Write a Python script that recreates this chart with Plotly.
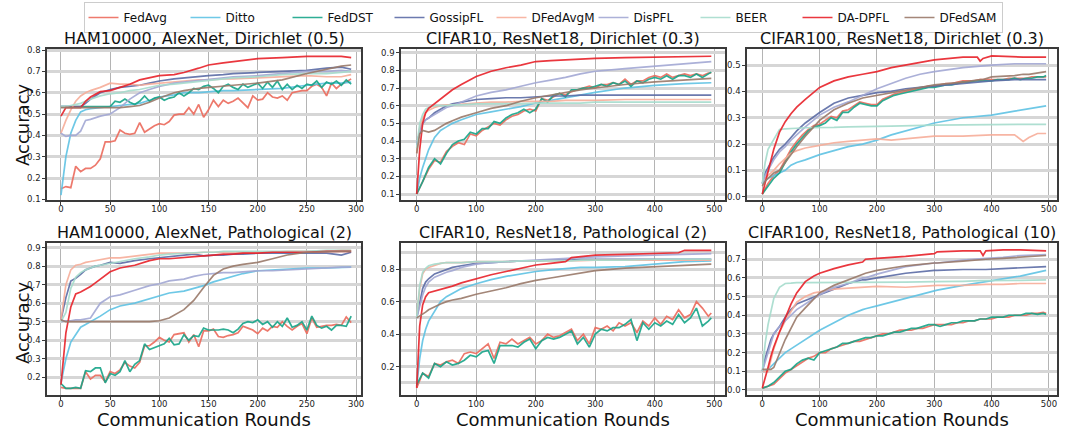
import plotly.graph_objects as go

# ---------------- data ----------------
METHODS = ["FedAvg", "Ditto", "FedDST", "GossipFL", "DFedAvgM", "DisPFL", "BEER", "DA-DPFL", "DFedSAM"]
COLORS = ["#ec6b5d", "#5fc3e4", "#17a589", "#5c6ca6", "#f7ae9a", "#a3a8d4", "#a6dccd", "#e8222a", "#9a7a6a"]
TITLES = ["HAM10000, AlexNet, Dirichlet (0.5)", "CIFAR10, ResNet18, Dirichlet (0.3)", "CIFAR100, ResNet18, Dirichlet (0.3)",
          "HAM10000, AlexNet, Pathological (2)", "CIFAR10, ResNet18, Pathological (2)", "CIFAR100, ResNet18, Pathological (10)"]

# noisy-series round grids
R_HAM = list(range(0, 300, 5))
R_CIF = list(range(0, 500, 10)) + [495]

# ---- Panel 1: HAM10000 Dirichlet(0.5)
p1_x = [0, 5, 10, 15, 20, 25, 30, 40, 50, 60, 70, 80, 90, 100, 115, 125, 140, 150, 165, 175, 200, 225, 250, 270, 285, 295]
p1_ditto = [0.12, 0.30, 0.41, 0.47, 0.51, 0.52, 0.525, 0.53, 0.535, 0.54, 0.545, 0.55, 0.565, 0.58, 0.59, 0.6, 0.6, 0.605, 0.61, 0.61, 0.615, 0.62, 0.635, 0.645, 0.645, 0.65]
p1_gossip = [0.535, 0.535, 0.535, 0.535, 0.535, 0.55, 0.57, 0.6, 0.615, 0.625, 0.63, 0.635, 0.645, 0.655, 0.665, 0.67, 0.675, 0.68, 0.685, 0.69, 0.695, 0.7, 0.705, 0.715, 0.72, 0.71]
p1_dfedavgm = [0.41, 0.47, 0.52, 0.56, 0.585, 0.6, 0.61, 0.625, 0.645, 0.64, 0.64, 0.635, 0.64, 0.645, 0.65, 0.655, 0.66, 0.66, 0.665, 0.665, 0.67, 0.675, 0.68, 0.675, 0.675, 0.685]
p1_dispfl = [0.41, 0.395, 0.40, 0.40, 0.42, 0.47, 0.475, 0.49, 0.5, 0.53, 0.57, 0.6, 0.615, 0.63, 0.645, 0.65, 0.66, 0.665, 0.67, 0.675, 0.68, 0.69, 0.7, 0.7, 0.705, 0.7]
p1_beer = [0.535, 0.535, 0.54, 0.545, 0.55, 0.56, 0.57, 0.585, 0.595, 0.6, 0.61, 0.615, 0.625, 0.635, 0.64, 0.645, 0.655, 0.66, 0.665, 0.67, 0.675, 0.685, 0.69, 0.69, 0.695, 0.7]
p1_dadpfl = [0.49, 0.53, 0.53, 0.53, 0.53, 0.56, 0.58, 0.605, 0.61, 0.625, 0.64, 0.66, 0.67, 0.68, 0.685, 0.695, 0.715, 0.73, 0.74, 0.745, 0.76, 0.765, 0.77, 0.77, 0.77, 0.765]
p1_dfedsam = [0.53, 0.53, 0.53, 0.53, 0.53, 0.53, 0.53, 0.53, 0.53, 0.53, 0.535, 0.54, 0.555, 0.575, 0.6, 0.61, 0.62, 0.625, 0.63, 0.635, 0.645, 0.66, 0.69, 0.71, 0.725, 0.73]
p1_fedavg = [0.15, 0.16, 0.155, 0.255, 0.23, 0.245, 0.245, 0.26, 0.29, 0.37,
             0.37, 0.375, 0.425, 0.41, 0.405, 0.41, 0.46, 0.415, 0.43, 0.445,
             0.455, 0.45, 0.465, 0.495, 0.5, 0.5, 0.53, 0.5, 0.545, 0.485,
             0.52, 0.565, 0.535, 0.565, 0.55, 0.56, 0.575, 0.55, 0.53, 0.585,
             0.565, 0.57, 0.6, 0.58, 0.575, 0.585, 0.565, 0.6, 0.605, 0.61,
             0.61, 0.63, 0.64, 0.625, 0.585, 0.645, 0.62, 0.64, 0.65, 0.665]
p1_feddst = [0.535, 0.535, 0.535, 0.535, 0.535, 0.535, 0.535, 0.535, 0.535, 0.535,
             0.535, 0.56, 0.555, 0.57, 0.555, 0.545, 0.56, 0.585, 0.56, 0.575,
             0.58, 0.565, 0.575, 0.58, 0.6, 0.585, 0.6, 0.62, 0.615, 0.63,
             0.635, 0.62, 0.6, 0.63, 0.64, 0.625, 0.615, 0.64, 0.625, 0.635,
             0.645, 0.62, 0.65, 0.625, 0.655, 0.615, 0.64, 0.615, 0.635, 0.62,
             0.64, 0.635, 0.655, 0.625, 0.65, 0.64, 0.655, 0.635, 0.66, 0.64]

# ---- Panel 2: CIFAR10 Dirichlet(0.3)
p2_x = [0, 5, 10, 15, 20, 30, 40, 50, 60, 75, 100, 125, 150, 175, 200, 225, 250, 275, 300, 350, 400, 450, 495]
p2_dadpfl = [0.1, 0.35, 0.5, 0.56, 0.585, 0.61, 0.64, 0.665, 0.69, 0.72, 0.765, 0.795, 0.815, 0.83, 0.85, 0.855, 0.86, 0.865, 0.868, 0.872, 0.876, 0.878, 0.88]
p2_dispfl = [0.38, 0.45, 0.5, 0.52, 0.53, 0.55, 0.57, 0.59, 0.6, 0.62, 0.655, 0.675, 0.69, 0.71, 0.73, 0.745, 0.76, 0.78, 0.795, 0.81, 0.825, 0.84, 0.85]
p2_gossip = [0.38, 0.45, 0.5, 0.52, 0.53, 0.56, 0.58, 0.6, 0.61, 0.62, 0.635, 0.64, 0.645, 0.645, 0.65, 0.655, 0.655, 0.66, 0.66, 0.66, 0.662, 0.662, 0.66]
p2_dfedavgm = [0.33, 0.47, 0.53, 0.56, 0.575, 0.59, 0.6, 0.605, 0.605, 0.61, 0.615, 0.62, 0.62, 0.625, 0.625, 0.625, 0.63, 0.63, 0.63, 0.635, 0.635, 0.635, 0.635]
p2_beer = [0.36, 0.5, 0.55, 0.58, 0.59, 0.6, 0.6, 0.6, 0.605, 0.605, 0.61, 0.61, 0.61, 0.612, 0.615, 0.615, 0.615, 0.615, 0.62, 0.62, 0.62, 0.62, 0.62]
p2_ditto = [0.1, 0.19, 0.25, 0.3, 0.35, 0.42, 0.46, 0.48, 0.5, 0.52, 0.55, 0.565, 0.58, 0.595, 0.615, 0.63, 0.645, 0.66, 0.675, 0.7, 0.715, 0.725, 0.73]
p2_dfedsam = [0.33, 0.44, 0.46, 0.455, 0.45, 0.46, 0.48, 0.5, 0.515, 0.535, 0.56, 0.585, 0.6, 0.625, 0.645, 0.66, 0.675, 0.69, 0.7, 0.72, 0.735, 0.745, 0.755]
p2_fedavg = [0.1, 0.17, 0.24, 0.29, 0.28, 0.34, 0.37, 0.39, 0.38, 0.44,
             0.43, 0.46, 0.48, 0.5, 0.49, 0.52, 0.54, 0.55, 0.57, 0.58,
             0.57, 0.64, 0.63, 0.65, 0.67, 0.66, 0.68, 0.69, 0.7, 0.71,
             0.7, 0.72, 0.72, 0.73, 0.72, 0.75, 0.72, 0.74, 0.74, 0.76,
             0.77, 0.76, 0.78, 0.76, 0.77, 0.78, 0.77, 0.78, 0.77, 0.785, 0.785]
p2_feddst = [0.1, 0.17, 0.25, 0.3, 0.27, 0.33, 0.38, 0.4, 0.41, 0.45,
             0.44, 0.47, 0.47, 0.51, 0.5, 0.53, 0.55, 0.56, 0.58, 0.56,
             0.58, 0.64, 0.62, 0.66, 0.67, 0.65, 0.69, 0.69, 0.7, 0.7,
             0.71, 0.72, 0.71, 0.73, 0.72, 0.74, 0.71, 0.74, 0.73, 0.75,
             0.76, 0.75, 0.77, 0.75, 0.77, 0.77, 0.76, 0.78, 0.76, 0.78, 0.79]

# ---- Panel 3: CIFAR100 Dirichlet(0.3)
p3_x = [0, 5, 10, 15, 20, 30, 40, 50, 60, 75, 100, 125, 150, 175, 200, 225, 250, 275, 300, 350, 375, 380, 385, 400, 440, 455, 465, 480, 495]
p3_dadpfl = [0.01, 0.05, 0.1, 0.14, 0.18, 0.245, 0.285, 0.315, 0.34, 0.37, 0.415, 0.44, 0.455, 0.465, 0.475, 0.49, 0.5, 0.51, 0.52, 0.53, 0.53, 0.515, 0.525, 0.535, 0.53, 0.53, 0.53, 0.53, 0.53]
p3_dispfl = [0.05, 0.08, 0.1, 0.12, 0.14, 0.17, 0.19, 0.215, 0.235, 0.265, 0.31, 0.34, 0.36, 0.385, 0.41, 0.43, 0.45, 0.465, 0.475, 0.49, 0.495, 0.495, 0.495, 0.5, 0.505, 0.505, 0.505, 0.505, 0.505]
p3_gossip = [0.05, 0.09, 0.11, 0.13, 0.15, 0.18, 0.2, 0.225, 0.25, 0.28, 0.32, 0.355, 0.375, 0.385, 0.395, 0.4, 0.41, 0.415, 0.42, 0.43, 0.435, 0.435, 0.435, 0.44, 0.445, 0.445, 0.445, 0.445, 0.445]
p3_dfedsam = [0.04, 0.06, 0.07, 0.08, 0.09, 0.1, 0.13, 0.16, 0.19, 0.23, 0.29, 0.33, 0.355, 0.375, 0.385, 0.395, 0.405, 0.415, 0.425, 0.435, 0.445, 0.445, 0.445, 0.455, 0.46, 0.465, 0.465, 0.47, 0.475]
p3_ditto = [0.05, 0.06, 0.07, 0.075, 0.08, 0.09, 0.1, 0.12, 0.13, 0.14, 0.16, 0.175, 0.19, 0.2, 0.215, 0.235, 0.25, 0.265, 0.28, 0.3, 0.305, 0.305, 0.305, 0.31, 0.325, 0.33, 0.335, 0.34, 0.345]
p3_beer = [0.05, 0.13, 0.18, 0.2, 0.22, 0.255, 0.258, 0.26, 0.26, 0.262, 0.262, 0.263, 0.265, 0.265, 0.267, 0.268, 0.27, 0.27, 0.272, 0.273, 0.274, 0.274, 0.274, 0.275, 0.275, 0.275, 0.275, 0.275, 0.275]
p3_dfedavgm = [0.06, 0.07, 0.08, 0.09, 0.1, 0.125, 0.145, 0.165, 0.175, 0.185, 0.195, 0.205, 0.21, 0.215, 0.22, 0.215, 0.22, 0.225, 0.23, 0.23, 0.232, 0.232, 0.232, 0.235, 0.235, 0.21, 0.225, 0.24, 0.24]
p3_fedavg = [0.01, 0.05, 0.08, 0.1, 0.14, 0.18, 0.21, 0.235, 0.255, 0.27,
             0.275, 0.29, 0.305, 0.3, 0.325, 0.33, 0.345, 0.36, 0.355, 0.35,
             0.35, 0.37, 0.38, 0.39, 0.395, 0.4, 0.405, 0.41, 0.415, 0.42,
             0.42, 0.425, 0.43, 0.43, 0.435, 0.44, 0.44, 0.44, 0.445, 0.445,
             0.445, 0.445, 0.445, 0.45, 0.45, 0.45, 0.45, 0.455, 0.455, 0.455, 0.455]
p3_feddst = [0.01, 0.04, 0.07, 0.09, 0.13, 0.17, 0.2, 0.225, 0.25, 0.265,
             0.27, 0.28, 0.3, 0.29, 0.32, 0.32, 0.34, 0.355, 0.35, 0.345,
             0.345, 0.365, 0.375, 0.385, 0.39, 0.395, 0.4, 0.405, 0.41, 0.415,
             0.415, 0.42, 0.425, 0.425, 0.43, 0.435, 0.435, 0.44, 0.44, 0.44,
             0.44, 0.445, 0.445, 0.445, 0.45, 0.445, 0.45, 0.45, 0.455, 0.455, 0.46]

# ---- Panel 4: HAM10000 Pathological(2)
p4_x = [0, 5, 10, 15, 20, 25, 30, 35, 40, 50, 60, 75, 90, 100, 110, 125, 135, 145, 155, 165, 175, 185, 200, 215, 230, 250, 270, 285, 295]
p4_dfedavgm = [0.51, 0.7, 0.78, 0.805, 0.81, 0.82, 0.825, 0.83, 0.835, 0.845, 0.845, 0.855, 0.865, 0.87, 0.87, 0.87, 0.87, 0.875, 0.875, 0.875, 0.875, 0.875, 0.875, 0.875, 0.88, 0.88, 0.88, 0.885, 0.885]
p4_gossip = [0.51, 0.63, 0.72, 0.735, 0.755, 0.78, 0.79, 0.8, 0.805, 0.82, 0.815, 0.83, 0.84, 0.845, 0.85, 0.86, 0.865, 0.855, 0.86, 0.86, 0.865, 0.865, 0.87, 0.87, 0.87, 0.87, 0.87, 0.86, 0.875]
p4_beer = [0.5, 0.55, 0.68, 0.74, 0.765, 0.78, 0.79, 0.8, 0.805, 0.815, 0.825, 0.84, 0.85, 0.86, 0.865, 0.87, 0.875, 0.875, 0.875, 0.88, 0.88, 0.88, 0.88, 0.88, 0.88, 0.88, 0.885, 0.885, 0.885]
p4_dadpfl = [0.16, 0.44, 0.58, 0.65, 0.66, 0.675, 0.69, 0.71, 0.73, 0.77, 0.79, 0.805, 0.83, 0.84, 0.84, 0.845, 0.85, 0.855, 0.86, 0.865, 0.865, 0.87, 0.87, 0.875, 0.875, 0.875, 0.88, 0.88, 0.88]
p4_dispfl = [0.5, 0.505, 0.505, 0.51, 0.51, 0.515, 0.52, 0.56, 0.6, 0.635, 0.645, 0.67, 0.695, 0.705, 0.72, 0.73, 0.745, 0.755, 0.76, 0.765, 0.765, 0.77, 0.775, 0.775, 0.78, 0.785, 0.79, 0.795, 0.795]
p4_ditto = [0.17, 0.3, 0.39, 0.43, 0.47, 0.485, 0.5, 0.515, 0.53, 0.565, 0.585, 0.6, 0.625, 0.64, 0.655, 0.665, 0.68, 0.695, 0.715, 0.73, 0.745, 0.76, 0.775, 0.78, 0.785, 0.79, 0.79, 0.795, 0.795]
p4_dfedsam = [0.51, 0.5, 0.5, 0.5, 0.5, 0.5, 0.5, 0.5, 0.5, 0.5, 0.5, 0.5, 0.5, 0.505, 0.52, 0.565, 0.615, 0.685, 0.75, 0.785, 0.8, 0.81, 0.82, 0.84, 0.86, 0.875, 0.88, 0.88, 0.88]
p4_fedavg = [0.145, 0.14, 0.14, 0.14, 0.14, 0.23, 0.19, 0.21, 0.21, 0.175,
             0.23, 0.22, 0.24, 0.28, 0.26, 0.25, 0.28, 0.37, 0.37, 0.39,
             0.415, 0.4, 0.39, 0.43, 0.435, 0.44, 0.39, 0.43, 0.365, 0.45,
             0.45, 0.46, 0.42, 0.415, 0.425, 0.43, 0.44, 0.475, 0.465, 0.455,
             0.435, 0.465, 0.45, 0.475, 0.47, 0.5, 0.475, 0.455, 0.475, 0.49,
             0.435, 0.52, 0.47, 0.475, 0.48, 0.48, 0.485, 0.48, 0.525, 0.495]
p4_feddst = [0.165, 0.14, 0.14, 0.145, 0.14, 0.235, 0.23, 0.25, 0.25, 0.17,
             0.22, 0.21, 0.23, 0.29, 0.23, 0.27, 0.29, 0.38, 0.35, 0.36,
             0.37, 0.38, 0.41, 0.375, 0.38, 0.43, 0.4, 0.425, 0.42, 0.465,
             0.455, 0.455, 0.455, 0.46, 0.455, 0.44, 0.46, 0.49, 0.5, 0.495,
             0.51, 0.485, 0.5, 0.47, 0.5, 0.475, 0.52, 0.47, 0.48, 0.5,
             0.455, 0.53, 0.48, 0.465, 0.475, 0.455, 0.48, 0.48, 0.475, 0.53]

# ---- Panel 5: CIFAR10 Pathological(2)
p5_x = [0, 5, 10, 15, 20, 30, 40, 50, 60, 75, 100, 125, 150, 175, 200, 225, 250, 260, 275, 300, 350, 400, 440, 450, 495]
p5_beer = [0.5, 0.7, 0.78, 0.805, 0.82, 0.83, 0.835, 0.84, 0.84, 0.84, 0.845, 0.845, 0.845, 0.85, 0.85, 0.85, 0.85, 0.85, 0.855, 0.855, 0.855, 0.86, 0.86, 0.86, 0.86]
p5_dfedavgm = [0.5, 0.68, 0.77, 0.8, 0.81, 0.825, 0.835, 0.84, 0.84, 0.84, 0.845, 0.845, 0.845, 0.85, 0.85, 0.85, 0.85, 0.85, 0.852, 0.855, 0.855, 0.855, 0.855, 0.855, 0.855]
p5_gossip = [0.5, 0.6, 0.68, 0.72, 0.74, 0.77, 0.785, 0.8, 0.81, 0.82, 0.835, 0.84, 0.845, 0.85, 0.85, 0.855, 0.855, 0.855, 0.86, 0.86, 0.86, 0.86, 0.86, 0.86, 0.86]
p5_dispfl = [0.5, 0.57, 0.64, 0.69, 0.72, 0.75, 0.765, 0.78, 0.79, 0.81, 0.83, 0.84, 0.845, 0.85, 0.855, 0.86, 0.865, 0.865, 0.87, 0.875, 0.88, 0.885, 0.89, 0.89, 0.895]
p5_dadpfl = [0.07, 0.45, 0.58, 0.63, 0.655, 0.665, 0.675, 0.685, 0.695, 0.715, 0.74, 0.765, 0.785, 0.805, 0.825, 0.835, 0.845, 0.87, 0.875, 0.885, 0.89, 0.895, 0.9, 0.915, 0.915]
p5_ditto = [0.08, 0.25, 0.36, 0.43, 0.48, 0.54, 0.6, 0.63, 0.65, 0.68, 0.71, 0.735, 0.755, 0.77, 0.785, 0.795, 0.8, 0.805, 0.81, 0.81, 0.815, 0.83, 0.84, 0.845, 0.85]
p5_dfedsam = [0.5, 0.51, 0.52, 0.535, 0.55, 0.57, 0.585, 0.6, 0.61, 0.62, 0.645, 0.665, 0.685, 0.71, 0.73, 0.745, 0.76, 0.765, 0.775, 0.79, 0.805, 0.815, 0.82, 0.825, 0.83]
p5_fedavg = [0.07, 0.16, 0.14, 0.22, 0.21, 0.23, 0.24, 0.22, 0.28, 0.29,
             0.28, 0.31, 0.34, 0.25, 0.35, 0.34, 0.37, 0.34, 0.36, 0.38,
             0.34, 0.36, 0.4, 0.38, 0.39, 0.41, 0.43, 0.36, 0.4, 0.34,
             0.44, 0.43, 0.45, 0.42, 0.47, 0.45, 0.47, 0.41, 0.48, 0.45,
             0.5, 0.46, 0.51, 0.49, 0.55, 0.5, 0.52, 0.6, 0.56, 0.51, 0.53]
p5_feddst = [0.09, 0.16, 0.13, 0.22, 0.2, 0.23, 0.21, 0.22, 0.24, 0.27,
             0.26, 0.29, 0.3, 0.22, 0.33, 0.33, 0.33, 0.32, 0.35, 0.37,
             0.31, 0.36, 0.38, 0.37, 0.38, 0.4, 0.42, 0.34, 0.38, 0.32,
             0.4, 0.43, 0.42, 0.44, 0.44, 0.46, 0.49, 0.36, 0.47, 0.43,
             0.47, 0.45, 0.48, 0.46, 0.52, 0.47, 0.5, 0.56, 0.45, 0.48, 0.5]

# ---- Panel 6: CIFAR100 Pathological(10)
p6_x = [0, 5, 10, 15, 20, 30, 40, 50, 60, 75, 90, 100, 125, 150, 175, 180, 200, 250, 300, 305, 350, 380, 385, 390, 420, 450, 495]
p6_beer = [0.1, 0.25, 0.35, 0.43, 0.49, 0.55, 0.57, 0.572, 0.575, 0.575, 0.575, 0.575, 0.575, 0.575, 0.575, 0.575, 0.575, 0.578, 0.58, 0.58, 0.582, 0.585, 0.585, 0.585, 0.585, 0.587, 0.59]
p6_dadpfl = [0.01, 0.06, 0.12, 0.18, 0.23, 0.31, 0.39, 0.46, 0.52, 0.58, 0.61, 0.625, 0.65, 0.67, 0.685, 0.7, 0.705, 0.715, 0.73, 0.74, 0.745, 0.745, 0.72, 0.745, 0.75, 0.75, 0.745]
p6_dispfl = [0.1, 0.15, 0.2, 0.26, 0.3, 0.34, 0.37, 0.4, 0.43, 0.46, 0.49, 0.51, 0.55, 0.57, 0.6, 0.6, 0.62, 0.66, 0.68, 0.68, 0.695, 0.705, 0.705, 0.705, 0.71, 0.72, 0.725]
p6_dfedsam = [0.11, 0.11, 0.11, 0.11, 0.12, 0.2, 0.27, 0.33, 0.39, 0.44, 0.49, 0.52, 0.56, 0.59, 0.62, 0.625, 0.64, 0.665, 0.68, 0.68, 0.69, 0.7, 0.7, 0.7, 0.705, 0.71, 0.72]
p6_gossip = [0.1, 0.17, 0.22, 0.27, 0.3, 0.34, 0.39, 0.43, 0.46, 0.48, 0.5, 0.51, 0.54, 0.57, 0.59, 0.59, 0.6, 0.625, 0.64, 0.64, 0.645, 0.645, 0.645, 0.645, 0.65, 0.655, 0.66]
p6_dfedavgm = [0.1, 0.1, 0.1, 0.16, 0.22, 0.31, 0.37, 0.42, 0.47, 0.5, 0.52, 0.525, 0.54, 0.545, 0.55, 0.55, 0.555, 0.55, 0.56, 0.56, 0.56, 0.565, 0.565, 0.565, 0.565, 0.57, 0.57]
p6_ditto = [0.1, 0.1, 0.11, 0.125, 0.14, 0.17, 0.2, 0.22, 0.24, 0.27, 0.3, 0.32, 0.36, 0.4, 0.43, 0.435, 0.45, 0.49, 0.53, 0.535, 0.56, 0.575, 0.58, 0.58, 0.595, 0.61, 0.64]
p6_fedavg = [0.01, 0.02, 0.03, 0.06, 0.09, 0.11, 0.13, 0.15, 0.17, 0.18,
             0.2, 0.2, 0.22, 0.23, 0.24, 0.25, 0.26, 0.26, 0.27, 0.28,
             0.29, 0.3, 0.3, 0.31, 0.32, 0.32, 0.32, 0.33, 0.33, 0.34,
             0.35, 0.35, 0.35, 0.35, 0.36, 0.36, 0.37, 0.37, 0.38, 0.38,
             0.38, 0.39, 0.39, 0.39, 0.4, 0.4, 0.4, 0.41, 0.41, 0.415, 0.41]
p6_feddst = [0.01, 0.02, 0.04, 0.07, 0.1, 0.11, 0.14, 0.16, 0.17, 0.16,
             0.2, 0.21, 0.22, 0.23, 0.25, 0.25, 0.26, 0.27, 0.28, 0.28,
             0.29, 0.29, 0.3, 0.31, 0.31, 0.32, 0.33, 0.33, 0.34, 0.35,
             0.35, 0.34, 0.35, 0.36, 0.36, 0.37, 0.37, 0.37, 0.38, 0.38,
             0.39, 0.39, 0.39, 0.4, 0.4, 0.4, 0.41, 0.41, 0.405, 0.41, 0.405]

# ---------------- assembly ----------------
panels = [
    (R_HAM, p1_x, [p1_fedavg, p1_ditto, p1_feddst, p1_gossip, p1_dfedavgm, p1_dispfl, p1_beer, p1_dadpfl, p1_dfedsam]),
    (R_CIF, p2_x, [p2_fedavg, p2_ditto, p2_feddst, p2_gossip, p2_dfedavgm, p2_dispfl, p2_beer, p2_dadpfl, p2_dfedsam]),
    (R_CIF, p3_x, [p3_fedavg, p3_ditto, p3_feddst, p3_gossip, p3_dfedavgm, p3_dispfl, p3_beer, p3_dadpfl, p3_dfedsam]),
    (R_HAM, p4_x, [p4_fedavg, p4_ditto, p4_feddst, p4_gossip, p4_dfedavgm, p4_dispfl, p4_beer, p4_dadpfl, p4_dfedsam]),
    (R_CIF, p5_x, [p5_fedavg, p5_ditto, p5_feddst, p5_gossip, p5_dfedavgm, p5_dispfl, p5_beer, p5_dadpfl, p5_dfedsam]),
    (R_CIF, p6_x, [p6_fedavg, p6_ditto, p6_feddst, p6_gossip, p6_dfedavgm, p6_dispfl, p6_beer, p6_dadpfl, p6_dfedsam]),
]

W, H = 1080, 429
FONT = "DejaVu Sans"
xdom_px = [(47, 361), (401, 725), (747, 1057)]
ydom_px = [(49, 200), (243, 395)]
xranges = [[-14.2, 305], [-26.4, 518], [-26.7, 514]]
yranges = [[0.097, 0.805], [0.066, 0.921], [-0.0125, 0.561], [0.104, 0.925], [0.026, 0.96], [-0.027, 0.787]]
ydticks = [0.1, 0.1, 0.1, 0.1, 0.2, 0.1]
xdticks = [50, 100, 100]

fig = go.Figure()
layout = {}
annotations = []
for i, (rnoisy, knots, series) in enumerate(panels):
    r, c = divmod(i, 3)
    n = i + 1
    xa = "x" if n == 1 else f"x{n}"
    ya = "y" if n == 1 else f"y{n}"
    for k, (name, col, vals) in enumerate(zip(METHODS, COLORS, series)):
        xs = rnoisy if name in ("FedAvg", "FedDST") else knots
        fig.add_trace(go.Scatter(x=xs, y=vals, mode="lines", name=name,
                                 line=dict(color=col, width=1.7), opacity=0.9,
                                 legendgroup=name, showlegend=(i == 0),
                                 xaxis=xa, yaxis=ya))
    x0, x1 = xdom_px[c]
    yt, yb = ydom_px[r]
    common = dict(showline=True, mirror=True, linecolor="#3a3a3a", linewidth=1.5,
                  ticks="outside", ticklen=3, tickcolor="#3a3a3a", tickwidth=1,
                  tickfont=dict(family=FONT, size=8.5, color="#222"), zeroline=False,
                  automargin=False)
    layout["xaxis" if n == 1 else f"xaxis{n}"] = dict(
        domain=[x0 / W, x1 / W], anchor=ya, range=xranges[c], dtick=xdticks[c], tick0=0,
        ticklabelstandoff=-3,
        showgrid=True, gridcolor="#b4b4b4", gridwidth=1, **common)
    yd = dict(domain=[1 - yb / H, 1 - yt / H], anchor=xa, range=yranges[i], dtick=ydticks[i], tick0=0,
              tickformat=".1f", showgrid=True, gridcolor="#d6d6d6", gridwidth=2.5, **common)
    if ydticks[i] == 0.2:
        yd["minor"] = dict(dtick=0.1, tick0=0, showgrid=True, gridcolor="#d6d6d6", gridwidth=2.5, ticks="")
    layout["yaxis" if n == 1 else f"yaxis{n}"] = yd
    # subplot title
    annotations.append(dict(text=TITLES[i], x=(x0 + x1) / 2 / W, y=1 - (yt - 11) / H, xref="paper", yref="paper",
                            xanchor="center", yanchor="middle", showarrow=False,
                            font=dict(family=FONT, size=16, color="#111")))

# axis labels
for r, yc in enumerate([125, 323]):
    annotations.append(dict(text="Accuracy", x=22 / W, y=1 - yc / H, xref="paper", yref="paper",
                            textangle=-90, xanchor="center", yanchor="middle", showarrow=False,
                            font=dict(family=FONT, size=18, color="#111")))
for c in range(3):
    x0, x1 = xdom_px[c]
    annotations.append(dict(text="Communication Rounds", x=(x0 + x1) / 2 / W, y=1 - 419.5 / H, xref="paper", yref="paper",
                            xanchor="center", yanchor="middle", showarrow=False,
                            font=dict(family=FONT, size=18, color="#111")))

fig.update_layout(
    template="none",
    width=W, height=H, margin=dict(l=0, r=0, t=0, b=0, autoexpand=False),
    paper_bgcolor="white", plot_bgcolor="white",
    font=dict(family=FONT),
    showlegend=True,
    legend=dict(orientation="h", x=543 / W, xanchor="center", y=1 - 2 / H, yanchor="top",
                bgcolor="white", bordercolor="#cccccc", borderwidth=1,
                entrywidth=57, entrywidthmode="pixels",
                font=dict(family=FONT, size=12, color="#111"), tracegroupgap=0),
    annotations=annotations,
    **layout,
)

fig.write_html("out.html", config={"displayModeBar": False},
               post_script="document.body.style.margin='0';document.body.style.overflow='hidden';")
